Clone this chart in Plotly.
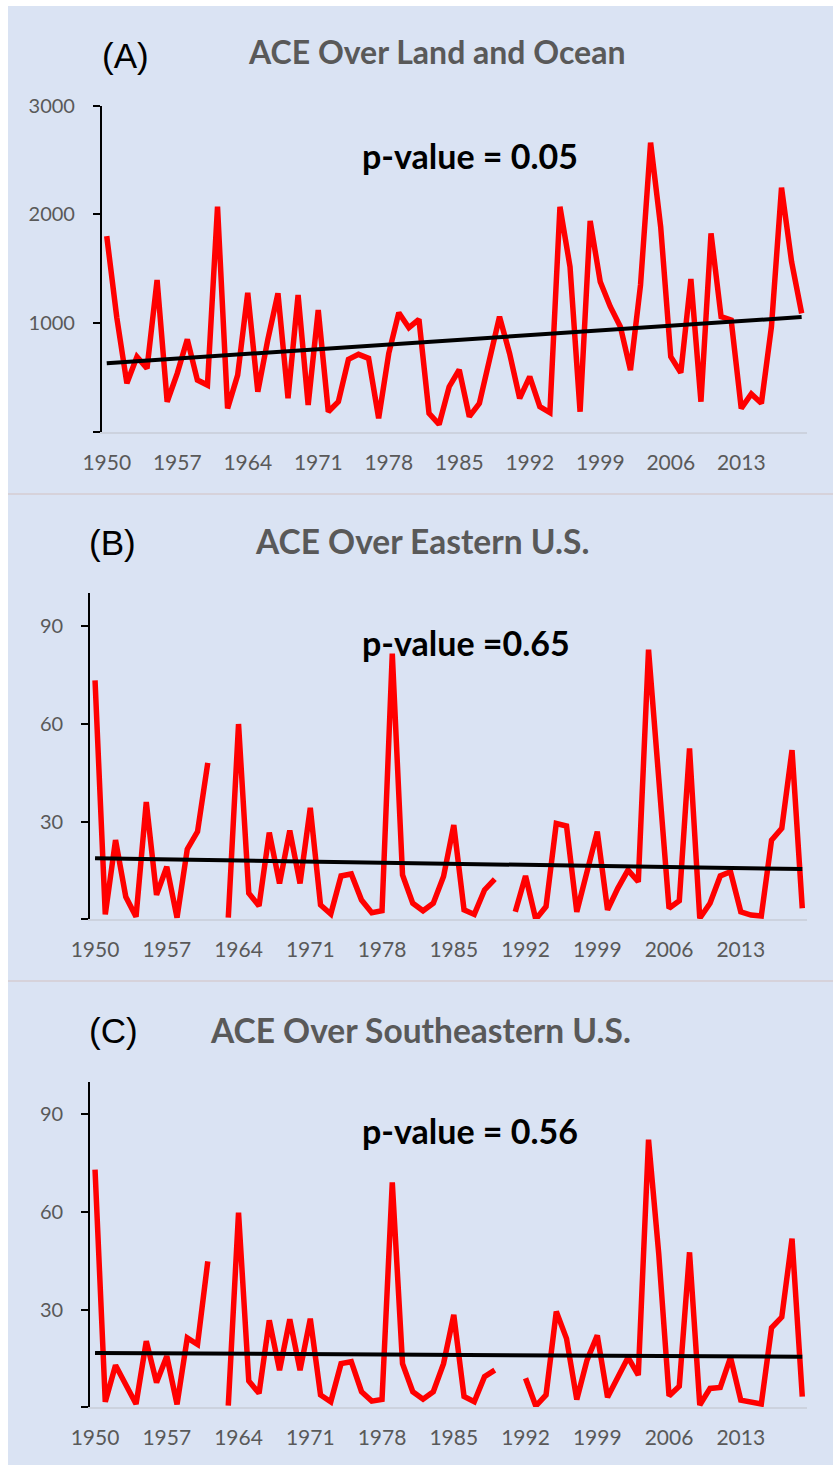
import plotly.graph_objects as go

years = list(range(1950, 2020))
tick_years = [1950, 1957, 1964, 1971, 1978, 1985, 1992, 1999, 2006, 2013]

ace_land_ocean = [1800, 1050, 445, 690, 583, 1396, 276, 537, 850, 475,
                  429, 2070, 215, 521, 1279, 368, 850, 1273, 307, 1258,
                  245, 1120, 184, 276, 666, 712, 675, 123, 720, 1095,
                  957, 1034, 169, 67, 414, 570, 138, 261, 660, 1058,
                  720, 307, 506, 230, 175, 2070, 1518, 184, 1939, 1380,
                  1150, 966, 567, 1350, 2660, 1887, 690, 543, 1405, 276,
                  1825, 1058, 1028, 215, 347, 261, 966, 2245, 1564, 1089]

ace_eastern = [73.3, 1.5, 24.3, 6.9, 0.8, 36, 7.5, 16.1, 0.5, 21.5,
               26.9, 48, None, 0.5, 59.9, 8, 4.1, 26.6, 11, 27.2,
               11, 34.2, 4.4, 1.6, 13.3, 13.9, 5.9, 2.0, 2.6, 81.5,
               13.6, 4.9, 2.6, 4.9, 13.1, 28.9, 2.9, 1.5, 9, 12.3,
               None, 2.3, 13.3, 0, 3.9, 29.4, 28.6, 2.3, 15.1, 26.9,
               2.9, 9.5, 15.1, 11.5, 82.7, 45, 3.4, 5.7, 52.4, 0.3,
               4.9, 13.3, 14.6, 2.3, 1.3, 1.0, 24.3, 27.9, 51.9, 3.4]

ace_southeastern = [73, 1.7, 12.9, 7.3, 1.0, 20.3, 7.6, 15.7, 0.9, 21.3,
                    19.3, 44.8, None, 0.5, 59.8, 8.1, 4.3, 26.7, 11.4, 27,
                    11.4, 27.2, 3.8, 1.7, 13.4, 14, 4.8, 1.9, 2.4, 69.1,
                    13.4, 4.8, 2.5, 4.8, 13.4, 28.4, 3.3, 1.7, 9.4, 11.4,
                    None, None, 8.9, 0.4, 3.8, 29.4, 21.1, 2.4, 14.5, 22.1,
                    3.1, 9.4, 15.3, 9.9, 82.2, 47, 3.5, 6.5, 47.6, 0.7,
                    5.8, 6.1, 15.3, 2.2, 1.4, 1.0, 24.4, 27.7, 51.8, 3.3]

trend_years = [1950, 2019]
trend_land_ocean = [630, 1055]
trend_eastern = [18.7, 15.4]
trend_southeastern = [16.7, 15.5]

panel_letters = ["(A)", "(B)", "(C)"]
panel_titles = ["ACE Over Land and Ocean", "ACE Over Eastern U.S.", "ACE Over Southeastern U.S."]
p_values = ["p-value = 0.05", "p-value =0.65", "p-value = 0.56"]

W, H = 833, 1465
BG = "#DAE3F3"
GRAY = "#595959"

def px(x):
    return x / W

def py(y):
    return 1 - y / H

fig = go.Figure()

series = [ace_land_ocean, ace_eastern, ace_southeastern]
trends = [trend_land_ocean, trend_eastern, trend_southeastern]
for k in range(3):
    ax = "" if k == 0 else str(k + 1)
    fig.add_trace(go.Scatter(x=years, y=series[k], mode="lines",
                             line=dict(color="#FF0000", width=5.5),
                             connectgaps=False, showlegend=False,
                             xaxis="x" + ax, yaxis="y" + ax))
    fig.add_trace(go.Scatter(x=trend_years, y=trends[k], mode="lines",
                             line=dict(color="#000000", width=4),
                             showlegend=False, xaxis="x" + ax, yaxis="y" + ax))

# pixel geometry of each panel: (left, right, bottom(y=0), top(y=max))
geo = [(101.7, 806.7, 431.7, 105.7),
       (89.9, 807.4, 919.3, 593.3),
       (89.9, 807.4, 1407.3, 1081.7)]
yranges = [[0, 3000], [0, 100], [0, 100]]
ytickvals = [[0, 1000, 2000, 3000], [0, 30, 60, 90], [0, 30, 60, 90]]

layout = dict(width=W, height=H, margin=dict(l=0, r=0, t=0, b=0, pad=0),
              paper_bgcolor="white", plot_bgcolor="rgba(0,0,0,0)",
              autosize=False, showlegend=False, template="none")

for k in range(3):
    l, r, b, t = geo[k]
    sfx = "" if k == 0 else str(k + 1)
    layout["xaxis" + sfx] = dict(domain=[px(l), px(r)], anchor="y" + sfx, automargin=False,
                                 range=[1949.5, 2019.5], tickmode="array",
                                 tickvals=tick_years, ticktext=[str(v) for v in tick_years],
                                 showline=True, linecolor="#CCD2DE", linewidth=1.5,
                                 ticks="", showgrid=False, zeroline=False,
                                 tickfont=dict(family="Lato", size=21, color=GRAY),
                                 ticklabelstandoff=11, fixedrange=True)
    tv = ytickvals[k]
    layout["yaxis" + sfx] = dict(domain=[py(b), py(t)], anchor="x" + sfx, automargin=False,
                                 range=yranges[k], tickmode="array", tickvals=tv,
                                 ticktext=[""] + [str(v) for v in tv[1:]],
                                 showline=True, linecolor="#000000", linewidth=1.5,
                                 ticks="outside", ticklen=7, tickwidth=1.5, tickcolor="#000000",
                                 showgrid=False, zeroline=False,
                                 tickfont=dict(family="Lato", size=20, color=GRAY),
                                 ticklabelstandoff=14, fixedrange=True)

fig.update_layout(**layout)

shapes = [
    dict(type="rect", xref="paper", yref="paper", x0=px(8), x1=1, y0=0, y1=py(6),
         fillcolor=BG, line=dict(width=0), layer="below"),
    dict(type="line", xref="paper", yref="paper", x0=px(8), x1=1, y0=py(494), y1=py(494),
         line=dict(color="#D6D2DA", width=2), layer="below"),
    dict(type="line", xref="paper", yref="paper", x0=px(8), x1=1, y0=py(981), y1=py(981),
         line=dict(color="#D6D2DA", width=2), layer="below"),
]
fig.update_layout(shapes=shapes)

letter_pos = [(126, 55), (112, 542), (113, 1030)]
title_pos = [(436, 52), (422, 541), (420, 1030)]
title_sizes = [32, 33.5, 33.5]
pval_pos = [(470, 155), (466, 642), (470, 1130)]
ann = []
for k in range(3):
    ann.append(dict(text=panel_letters[k], x=px(letter_pos[k][0]), y=py(letter_pos[k][1]),
                    xref="paper", yref="paper", showarrow=False, xanchor="center", yanchor="middle",
                    font=dict(family="Liberation Sans", size=35, color="#000000")))
    ann.append(dict(text="<b>" + panel_titles[k] + "</b>", x=px(title_pos[k][0]), y=py(title_pos[k][1]),
                    xref="paper", yref="paper", showarrow=False, xanchor="center", yanchor="middle",
                    font=dict(family="Lato", size=title_sizes[k], color=GRAY)))
    ann.append(dict(text="<b>" + p_values[k] + "</b>", x=px(pval_pos[k][0]), y=py(pval_pos[k][1]),
                    xref="paper", yref="paper", showarrow=False, xanchor="center", yanchor="middle",
                    font=dict(family="Lato", size=34, color="#000000")))
fig.update_layout(annotations=ann)

fig.write_html("out.html", config={"displayModeBar": False},
               post_script="document.body.style.margin='0';")
